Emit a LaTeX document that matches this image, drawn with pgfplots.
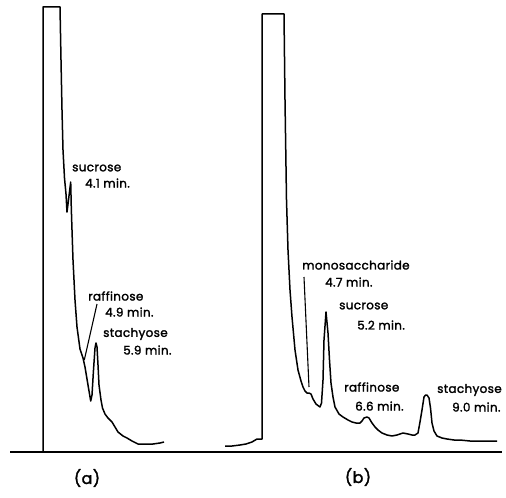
\documentclass[border=0pt]{standalone}
\usepackage{pgfplots}
\pgfplotsset{compat=1.18}
\usepackage{fontspec}
\setmainfont{Poppins}[LetterSpace=3, FakeBold=1.8]

% Chromatogram traces, in drawing units (x to the right, y downwards)
\pgfplotstableread{
x y
43 452
43 7
60 7
61 60
62 110
63 150
64.5 178
66 194
67 212
68.5 200
70.7 182
71.3 208
72 230
73 260
75 300
77 327
80 349
83 358
85 367
88 385
90.7 401
92 395
93.5 370
95 348
96 343
97 347
98 365
99 385
101 400
102.5 408
105 414
108 418
112 422
115 427
118 432
123 436
127 438
132 441
138 444
146 444
153 444
160 443
164 442
}\traceA

\pgfplotstableread{
x y
225 446
232 446
240 445
246 444
252 442
257 439
262 439
262 14
284 14
285 100
286.5 200
288 250
290 290
292 317
295 350
298 370
301 381
303 387
305 391
307 393
309 393
311 394
313 399
316 404
320 407
321.5 403
323 380
324 340
326 312
328 333
329.5 360
331 383
333 397
335 407
339 414
343 417
348 420
352 422
356 423
360 423
362 421
364 418
367 417
369 418
372 423
375 427
378 430
382 433
387 435
392 436
397 435
403 433
408 434
412 435
415 435
418 433
420 422
422 410
424 397
425.5 395
427 395
429 398
430.5 408
432 423
434 431
437 436
442 438
447 439
454 440
460 440
470 441
480 441
490 441
497 441
}\traceB

\begin{document}
\begin{tikzpicture}
\begin{axis}[
  scale only axis,
  width=506bp, height=498bp,
  xmin=0, xmax=506, ymin=0, ymax=498,
  y dir=reverse,
  hide axis,
  clip=false,
]
\path (rel axis cs:0,0) rectangle (rel axis cs:1,1);

% recorder baseline
\addplot[black, line width=2bp] coordinates {(10,452) (502,452)};

% traces
\addplot[black, line width=1.5bp, line join=round] table {\traceA};
\addplot[black, line width=1.5bp, line join=round] table {\traceB};

% leader lines
\addplot[black, line width=1.1bp] coordinates {(84.3,360) (97,304)};
\addplot[black, line width=1.1bp] coordinates {(304,277) (309,387)};

% peak labels, chromatogram (a)
\tikzset{lab/.style={font=\fontsize{12}{14}\selectfont, inner sep=0pt}}
\node[lab, anchor=west] at (axis cs:72,168) {sucrose};
\node[lab, anchor=west] at (axis cs:85,183) {4.1 min.};
\node[lab, anchor=west] at (axis cs:88,296) {raffinose};
\node[lab, anchor=west] at (axis cs:105,312) {4.9 min.};
\node[lab, anchor=west] at (axis cs:103,334) {stachyose};
\node[lab, anchor=west] at (axis cs:123,350) {5.9 min.};

% peak labels, chromatogram (b)
\node[lab, anchor=west] at (axis cs:302,265) {monosaccharide};
\node[lab, anchor=west] at (axis cs:325,282) {4.7 min.};
\node[lab, anchor=west] at (axis cs:339,306) {sucrose};
\node[lab, anchor=west] at (axis cs:357,325) {5.2 min.};
\node[lab, anchor=west] at (axis cs:344,387) {raffinose};
\node[lab, anchor=west] at (axis cs:355,406) {6.6 min.};
\node[lab, anchor=west] at (axis cs:437,390) {stachyose};
\node[lab, anchor=west] at (axis cs:452,407) {9.0 min.};

% panel letters
\node[font=\fontsize{16}{18}\selectfont] at (axis cs:87,478) {(a)};
\node[font=\fontsize{16}{18}\selectfont] at (axis cs:358,477) {(b)};
\end{axis}
\end{tikzpicture}
\end{document}
